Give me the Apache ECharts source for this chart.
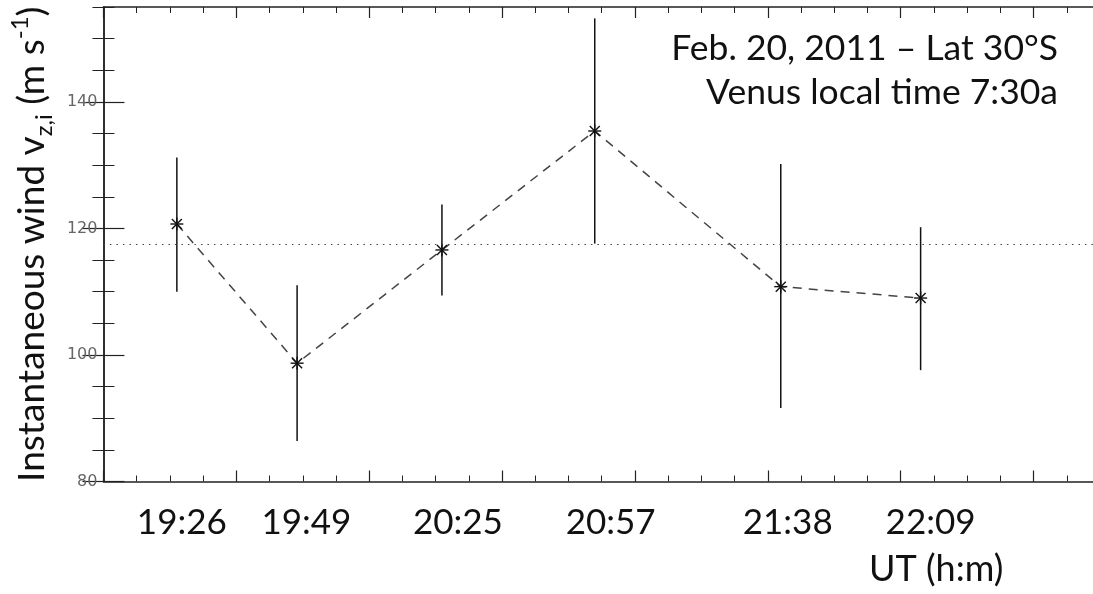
<!DOCTYPE html>
<html>
<head>
<meta charset="utf-8">
<script src="https://cdn.jsdelivr.net/npm/echarts@6/dist/echarts.min.js"></script>
<style>
html,body{margin:0;padding:0;background:#fff;overflow:hidden;}
#chart{width:1110px;height:594px;}
</style>
</head>
<body>
<div id="chart"></div>
<script>
// ---- data (x positions in axis units: 1 unit = one minor x tick) ----
const xPos      = [2.21, 5.83, 10.19, 14.79, 20.39, 24.60];
const windVals  = [120.7, 98.7, 116.6, 135.4, 110.8, 109.0];
const errLow    = [110.0, 86.4, 109.4, 117.6, 91.6, 97.6];
const errHigh   = [131.2, 111.0, 123.8, 153.2, 130.2, 120.2];
const timeLabels = ['19:26', '19:49', '20:25', '20:57', '21:38', '22:09'];
const labelPos  = [2.36, 6.11, 10.67, 15.27, 20.60, 24.90];
const meanWind  = 117.5;
const yMajorTicks = [80, 100, 120, 140];
const xMajorTicks = [0, 4, 8, 12, 16, 20, 24, 28];
const yRange = [80, 155];
const xRange = [0, 30];

const axisColor = '#222';
const chart = echarts.init(document.getElementById('chart'), null, {renderer: 'canvas'});

function xAxisDef(pos, major, extra) {
  return Object.assign({
    type: 'value', position: pos, min: xRange[0], max: xRange[1],
    splitLine: {show: false},
    axisLine: {show: major, lineStyle: {color: axisColor, width: 1.5}},
    axisTick: major
      ? {show: true, inside: true, length: 11, customValues: xMajorTicks, lineStyle: {color: axisColor, width: 1.2}}
      : {show: true, inside: true, length: 6, lineStyle: {color: axisColor, width: 1}},
    interval: major ? 4 : 1,
    axisLabel: {show: false}
  }, extra || {});
}
function yAxisDef(pos, major, extra) {
  return Object.assign({
    type: 'value', position: pos, min: yRange[0], max: yRange[1],
    splitLine: {show: false},
    axisLine: {show: major, lineStyle: {color: axisColor, width: 1.5}},
    axisTick: major
      ? {show: true, inside: true, length: 21, customValues: yMajorTicks, lineStyle: {color: axisColor, width: 1.2}}
      : {show: true, inside: true, length: 11, lineStyle: {color: axisColor, width: 1}},
    interval: major ? 20 : 5,
    axisLabel: {show: false}
  }, extra || {});
}

const option = {
  backgroundColor: '#fff',
  animation: false,
  grid: {left: 95, right: 10, top: 7, bottom: 112.5, containLabel: false},
  xAxis: [
    xAxisDef('bottom', true),
    xAxisDef('bottom', false),
    xAxisDef('top', true),
    xAxisDef('top', false),
    {
      type: 'value', position: 'bottom', min: xRange[0], max: xRange[1],
      splitLine: {show: false}, axisLine: {show: false}, axisTick: {show: false},
      axisLabel: {
        show: true, customValues: labelPos, margin: 24,
        fontFamily: 'Lato', fontSize: 35, color: '#111',
        formatter: function (v) {
          let best = 0;
          labelPos.forEach(function (p, i) { if (Math.abs(p - v) < Math.abs(labelPos[best] - v)) best = i; });
          return timeLabels[best];
        }
      }
    }
  ],
  yAxis: [
    yAxisDef('left', true, {
      axisLabel: {show: true, customValues: yMajorTicks, margin: 6, fontFamily: 'DejaVu Sans', fontSize: 16, color: '#666'},
      name: '{t|Instantaneous wind v}{s|z,i}{t| (m s}{p|-1}{t|)}',
      nameLocation: 'middle', nameGap: 39, nameRotate: 90,
      nameTextStyle: {
        fontFamily: 'Lato', fontSize: 37, color: '#111',
        rich: {
          t: {fontFamily: 'Lato', fontSize: 37, color: '#111', lineHeight: 48},
          s: {fontFamily: 'Lato', fontSize: 24, color: '#111', lineHeight: 30, verticalAlign: 'bottom'},
          p: {fontFamily: 'Lato', fontSize: 24, color: '#111', lineHeight: 30, verticalAlign: 'top'}
        }
      }
    }),
    yAxisDef('left', false),
    yAxisDef('right', true),
    yAxisDef('right', false)
  ],
  graphic: [
    {type: 'text', right: 52, top: 31, style: {text: 'Feb. 20, 2011 \u2013 Lat 30\u00B0S', fontFamily: 'Lato', fontSize: 35.5, fill: '#111', align: 'right'}},
    {type: 'text', right: 52, top: 75, style: {text: 'Venus local time 7:30a', fontFamily: 'Lato', fontSize: 35.5, fill: '#111', align: 'right'}},
    {type: 'text', left: 869, top: 551, style: {text: 'UT (h:m)', fontFamily: 'Lato', fontSize: 36, fill: '#111'}}
  ],
  series: [
    {
      type: 'line', xAxisIndex: 0, yAxisIndex: 0,
      data: xPos.map(function (x, i) { return [x, windVals[i]]; }),
      symbol: 'none',
      lineStyle: {color: '#444', width: 1.5, type: [9, 7]},
      markLine: {
        silent: true, symbol: 'none', label: {show: false},
        lineStyle: {color: '#444', width: 1.2, type: [1.5, 5]},
        data: [{yAxis: meanWind}]
      },
      z: 2
    },
    {
      type: 'custom', xAxisIndex: 0, yAxisIndex: 0,
      data: xPos.map(function (x, i) { return [x, windVals[i], errLow[i], errHigh[i]]; }),
      encode: {x: 0, y: [1, 2, 3]},
      renderItem: function (params, api) {
        const x = api.value(0);
        const p = api.coord([x, api.value(1)]);
        const lo = api.coord([x, api.value(2)]);
        const hi = api.coord([x, api.value(3)]);
        const st = {stroke: '#111', lineWidth: 1.5};
        const ss = {stroke: '#111', lineWidth: 1.4};
        const r = 6.5, d = 5;
        return {
          type: 'group',
          children: [
            {type: 'line', shape: {x1: hi[0], y1: hi[1], x2: lo[0], y2: lo[1]}, style: st},
            {type: 'line', shape: {x1: p[0] - r, y1: p[1], x2: p[0] + r, y2: p[1]}, style: ss},
            {type: 'line', shape: {x1: p[0] - d, y1: p[1] - d, x2: p[0] + d, y2: p[1] + d}, style: ss},
            {type: 'line', shape: {x1: p[0] - d, y1: p[1] + d, x2: p[0] + d, y2: p[1] - d}, style: ss},
            {type: 'line', shape: {x1: p[0], y1: p[1] - r, x2: p[0], y2: p[1] + r}, style: ss}
          ]
        };
      },
      z: 3
    }
  ]
};
chart.setOption(option);
</script>
</body>
</html>
